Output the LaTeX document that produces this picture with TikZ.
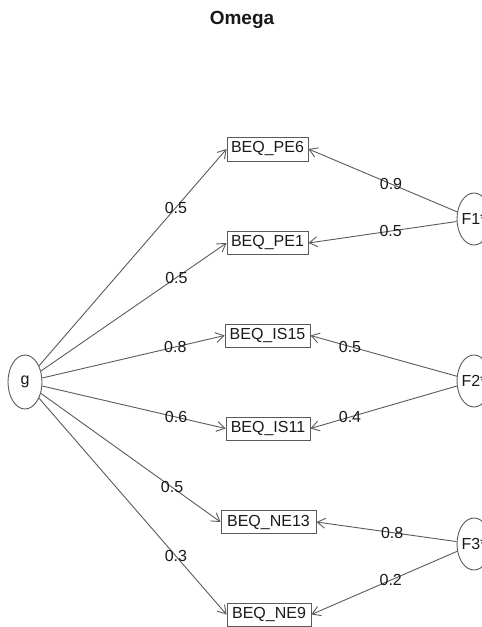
\documentclass[tikz,border=0pt]{standalone}
\usepackage{fontspec}
\setmainfont{Liberation Sans}
\usetikzlibrary{shapes.geometric,arrows.meta}
\definecolor{linegray}{RGB}{90,90,90}
\begin{document}
\begin{tikzpicture}[x=1pt,y=-1pt,
  every node/.style={font=\fontsize{16}{18}\selectfont, text=black!90},
  latent/.style={draw=linegray, line width=0.9pt, ellipse, minimum width=34pt, inner sep=0pt},
  manifest/.style={draw=linegray, line width=0.9pt, rectangle, inner sep=0pt, minimum height=23pt},
  path/.style={draw=linegray, line width=0.9pt, -{Straight Barb[length=8pt,width=10pt]}},
  coef/.style={inner sep=0pt}
]
\useasboundingbox (0,0) rectangle (482,627);
\clip (0,0) rectangle (482,627);

% title
\node[font=\bfseries\fontsize{19}{21}\selectfont] (title) at (242,20) {Omega};

% general factor
\node[latent, minimum height=54pt, label=center:{g}] (g) at (25,382) {};

% group factors
\node[latent, minimum height=52pt, label=center:{F1*}] (F1) at (474,219) {};
\node[latent, minimum height=52pt, label=center:{F2*}] (F2) at (474,381) {};
\node[latent, minimum height=52pt, label=center:{F3*}] (F3) at (474,544) {};

% items
\node[manifest, minimum width=81pt, minimum height=24pt] (pe6) at (267.5,149) {BEQ\_PE6};
\node[manifest, minimum width=81pt] (pe1) at (267.5,243) {BEQ\_PE1};
\node[manifest, minimum width=85pt] (is15) at (267.5,335.5) {BEQ\_IS15};
\node[manifest, minimum width=84pt] (is11) at (268,428.5) {BEQ\_IS11};
\node[manifest, minimum width=95pt] (ne13) at (268.5,522) {BEQ\_NE13};
\node[manifest, minimum width=84pt] (ne9) at (269,614.5) {BEQ\_NE9};

% general factor loadings
\draw[path] (g) -- node[coef, pos=0.73] (l1) {0.5} (pe6.west);
\draw[path] (g) -- node[coef, pos=0.73] (l2) {0.5} (pe1.west);
\draw[path] (g) -- node[coef, pos=0.73] (l3) {0.8} (is15.west);
\draw[path] (g) -- node[coef, pos=0.73] (l4) {0.6} (is11.west);
\draw[path] (g) -- node[coef, pos=0.73] (l5) {0.5} (ne13.west);
\draw[path] (g) -- node[coef, pos=0.73] (l6) {0.3} (ne9.west);

% group factor loadings
\draw[path] (F1) -- node[coef, pos=0.445] (m1) {0.9} (pe6.east);
\draw[path] (F1) -- node[coef, pos=0.445] (m2) {0.5} (pe1.east);
\draw[path] (F2) -- node[coef, pos=0.73] (m3) {0.5} (is15.east);
\draw[path] (F2) -- node[coef, pos=0.73] (m4) {0.4} (is11.east);
\draw[path] (F3) -- node[coef, pos=0.46] (m5) {0.8} (ne13.east);
\draw[path] (F3) -- node[coef, pos=0.456] (m6) {0.2} (ne9.east);
\end{tikzpicture}
\end{document}
